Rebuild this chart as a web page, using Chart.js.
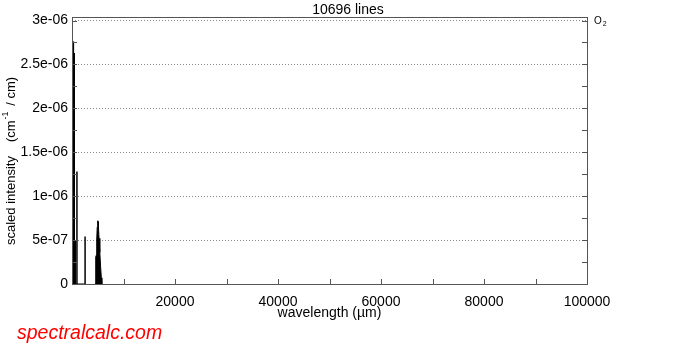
<!DOCTYPE html>
<html><head><meta charset="utf-8">
<script src="https://cdn.jsdelivr.net/npm/chart.js@4"></script>
<style>html,body{margin:0;padding:0;background:#fff}</style>
</head><body>
<canvas id="c" width="691" height="346" style="display:block;width:691px;height:346px"></canvas>
<script>
// ---- data ----
// isolated lines (wavelength in µm, scaled intensity)
const lineWavelengths = [150, 250, 300, 350, 430, 500, 600, 700, 960, 2540];
const lineIntensities = [1.5e-6, 2.76e-6, 2.0e-6, 1.7e-6, 2.63e-6, 0.56e-6, 0.5e-6, 0.45e-6, 1.28e-6, 0.54e-6];
// dense 60 GHz band envelope (wavelength in µm, scaled intensity)
const bandWavelengths = [4470, 4560, 4660, 4750, 4800, 4900, 5000, 5060, 5120, 5250, 5400, 5550, 5700, 5800];
const bandIntensities = [0, 0.05e-6, 0.31e-6, 0.33e-6, 0.5e-6, 0.65e-6, 0.72e-6, 0.71e-6, 0.66e-6, 0.52e-6, 0.36e-6, 0.2e-6, 0.07e-6, 0];
const xTickValues = [0, 10000, 20000, 30000, 40000, 50000, 60000, 70000, 80000, 90000, 100000];
const xTickLabels = ['', '', '20000', '', '40000', '', '60000', '', '80000', '', '100000'];
const yTickValues = [0, 5e-7, 1e-6, 1.5e-6, 2e-6, 2.5e-6, 3e-6];
const yTickLabels = ['0', '5e-07', '1e-06', '1.5e-06', '2e-06', '2.5e-06', '3e-06'];
const yMinorValues = [2.5e-7, 7.5e-7, 1.25e-6, 1.75e-6, 2.25e-6, 2.75e-6];
const chartTitle = '10696 lines';
const xTitle = 'wavelength (\u00b5m)';
const yTitleMain = 'scaled intensity';
const speciesLabel = 'O';
const speciesSub = '2';
const watermark = 'spectralcalc.com';

const FONT = "'Liberation Sans', Arial, Helvetica, sans-serif";

// stick spectrum built from the line lists
const stickPoints = [];
lineWavelengths.forEach((w, i) => {
  stickPoints.push({x: w, y: 0}, {x: w, y: lineIntensities[i]}, {x: w, y: 0});
});
const bandPoints = bandWavelengths.map((w, i) => ({x: w, y: bandIntensities[i]}));

const decor = {
  id: 'decor',
  afterDraw(chart) {
    const ctx = chart.ctx, a = chart.chartArea;
    const xs = chart.scales.x, ys = chart.scales.y;
    ctx.save();
    // frame
    ctx.strokeStyle = '#555'; ctx.lineWidth = 1;
    ctx.strokeRect(Math.round(a.left) + 0.5, Math.round(a.top) + 0.5, Math.round(a.right - a.left), Math.round(a.bottom - a.top));
    // inward ticks
    const tl = 5;
    ctx.beginPath();
    xTickValues.forEach(v => {
      const px = Math.round(xs.getPixelForValue(v)) + 0.5;
      ctx.moveTo(px, a.bottom); ctx.lineTo(px, a.bottom - tl);
    });
    yTickValues.concat(yMinorValues).forEach(v => {
      const py = Math.round(ys.getPixelForValue(v)) + 0.5;
      ctx.moveTo(a.left, py); ctx.lineTo(a.left + tl, py);
      ctx.moveTo(a.right, py); ctx.lineTo(a.right - tl, py);
    });
    ctx.stroke();
    // titles
    ctx.fillStyle = '#000';
    ctx.font = '14px ' + FONT;
    ctx.textAlign = 'center'; ctx.textBaseline = 'middle';
    ctx.fillText(chartTitle, 348, 10);
    ctx.fillText(xTitle, (a.left + a.right) / 2, 313);
    // species label
    ctx.font = '10px ' + FONT; ctx.textAlign = 'left';
    ctx.fillText(speciesLabel, 594, 21);
    const ow = ctx.measureText(speciesLabel).width;
    ctx.font = '7px ' + FONT;
    ctx.fillText(speciesSub, 594 + ow + 1, 24);
    // y title (rotated)
    ctx.save();
    ctx.translate(11, 245);
    ctx.rotate(-Math.PI / 2);
    ctx.textAlign = 'left'; ctx.textBaseline = 'middle';
    ctx.font = '13px ' + FONT;
    let x = 0;
    ctx.fillText(yTitleMain, x, 0);
    x += ctx.measureText(yTitleMain).width + 14;
    ctx.fillText('(cm', x, 0);
    x += ctx.measureText('(cm').width;
    ctx.font = '9px ' + FONT;
    ctx.fillText('-1', x + 1, -5);
    x += ctx.measureText('-1').width + 3;
    ctx.font = '13px ' + FONT;
    ctx.fillText(' / cm)', x, 0);
    ctx.restore();
    // watermark
    ctx.fillStyle = '#ff0000';
    ctx.font = 'italic 19.5px ' + FONT;
    ctx.textAlign = 'left'; ctx.textBaseline = 'alphabetic';
    ctx.fillText(watermark, 17, 339);
    ctx.restore();
  }
};

new Chart(document.getElementById('c'), {
  type: 'line',
  data: {
    datasets: [{
      data: stickPoints,
      borderColor: '#000', backgroundColor: '#000', borderWidth: 1,
      pointRadius: 0, fill: 'origin', tension: 0
    }, {
      data: bandPoints,
      borderColor: '#000', backgroundColor: '#000', borderWidth: 1,
      pointRadius: 0, fill: 'origin', tension: 0
    }]
  },
  options: {
    responsive: false, animation: false, devicePixelRatio: 1,
    layout: {padding: {left: 0, right: 104, top: 17, bottom: 0}},
    plugins: {legend: {display: false}, tooltip: {enabled: false}, title: {display: false}},
    scales: {
      x: {
        type: 'linear', min: 0, max: 100000,
        afterBuildTicks: s => { s.ticks = xTickValues.map(v => ({value: v})); },
        afterFit: s => { s.height = 62; },
        ticks: {callback: (v, i) => xTickLabels[i], color: '#000', font: {family: FONT, size: 14}, padding: 10, maxRotation: 0, autoSkip: false},
        grid: {display: false, drawTicks: false},
        border: {display: false}
      },
      y: {
        min: 0, max: 3.04e-6,
        afterBuildTicks: s => { s.ticks = yTickValues.map(v => ({value: v})); },
        afterFit: s => { s.width = 72; },
        ticks: {callback: (v, i) => yTickLabels[i], color: '#000', font: {family: FONT, size: 14}, padding: 4, autoSkip: false},
        grid: {drawTicks: false, color: c => (c.tick && c.tick.value === 0) ? 'rgba(0,0,0,0)' : '#888'},
        border: {display: false, dash: [1, 2]}
      }
    }
  },
  plugins: [decor]
});
</script>
</body></html>
